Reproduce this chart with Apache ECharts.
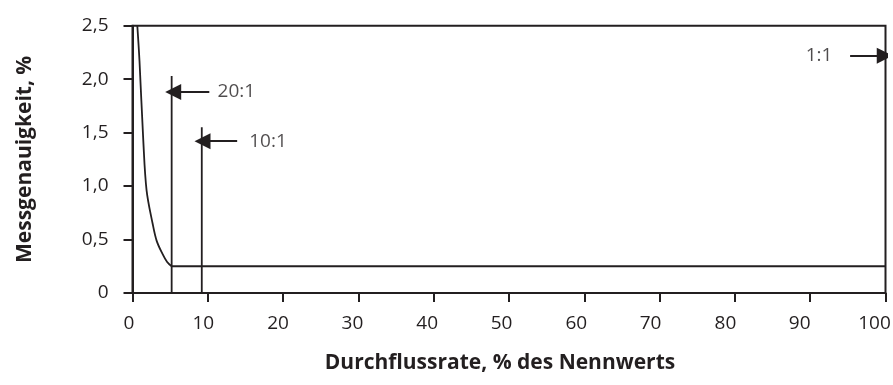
<!DOCTYPE html>
<html>
<head>
<meta charset="utf-8">
<script src="https://cdn.jsdelivr.net/npm/echarts@6/dist/echarts.min.js"></script>
<style>
	html, body { margin: 0; padding: 0; background: #fff; }
	#chart { width: 893px; height: 385px; }
</style>
</head>
<body>
<div id="chart"></div>
<script>
// Messkurve (Durchflussrate %, Messgenauigkeit %)
var curve = [
	[0.64, 2.5], [0.93, 2.17], [1.43, 1.43], [1.87, 0.96], [2.67, 0.65],
	[3.2, 0.49], [3.95, 0.37], [4.6, 0.29], [5.2, 0.25]
]
var plateau = [[5.2, 0.25], [100, 0.25]]
// Grenzlinien für 20:1 und 10:1
var limit20 = [[5.2, 0], [5.2, 2.03]]
var limit10 = [[9.2, 0], [9.2, 1.55]]
// Pfeile: [Anfang, Spitze]
var arrows = [
	[[10.2, 1.88], [5.4, 1.88]],
	[[13.9, 1.42], [9.3, 1.42]],
	[[95.3, 2.22], [99.9, 2.22]]
]
var arrowLabels = [
	{ name: "20:1", value: [11.3, 1.88] },
	{ name: "10:1", value: [15.5, 1.42] },
	{ name: "1:1", value: [89.4, 2.22] }
]
var yTickLabels = ["0", "0,5", "1,0", "1,5", "2,0", "2,5"]

var ink = "#231f20"
var font = "'Open Sans', 'Noto Sans', sans-serif"

// in der Vorlage rücken die x-Beschriftungen nach rechts hin leicht nach links
var xRich = {}
for (var k = 0; k <= 10; k++) {
	xRich["l" + k] = { padding: [0, Math.round(2 * (3.5 + 0.75 * k)), 0, 0] }
}

var option = {
	animation: false,
	grid: {
		left: 132.5,
		right: 7.5,
		top: 25.7,
		bottom: 92,
		outerBoundsMode: "none",
		show: true,
		borderColor: ink,
		borderWidth: 2
	},
	xAxis: {
		type: "value",
		min: 0,
		max: 100,
		interval: 10,
		name: "Durchflussrate, % des Nennwerts",
		nameLocation: "middle",
		nameGap: 60,
		nameTextStyle: {
			fontFamily: font,
			fontWeight: "bold",
			fontSize: 21,
			color: ink,
			padding: [0, 18, 0, 0]
		},
		axisLine: { lineStyle: { color: ink, width: 2 } },
		axisTick: { lineStyle: { color: ink, width: 2 }, length: 9 },
		axisLabel: {
			fontFamily: font,
			fontSize: 19,
			color: ink,
			margin: 21,
			formatter(v) {
				return "{l" + Math.round(v / 10) + "|" + v + "}"
			},
			rich: xRich
		},
		splitLine: { show: false }
	},
	yAxis: {
		type: "value",
		min: 0,
		max: 2.5,
		interval: 0.5,
		name: "Messgenauigkeit, %",
		nameLocation: "middle",
		nameGap: 97,
		nameTextStyle: { fontFamily: font, fontWeight: "bold", fontSize: 21, color: ink },
		axisLine: { show: true, lineStyle: { color: ink, width: 2 } },
		axisTick: { show: true, lineStyle: { color: ink, width: 2 }, length: 9 },
		axisLabel: {
			fontFamily: font,
			fontSize: 19,
			color: ink,
			margin: 24,
			formatter(v) {
				return yTickLabels[Math.round(v / 0.5)]
			}
		},
		splitLine: { show: false }
	},
	series: [
		{
			type: "line",
			data: curve,
			smooth: 0.35,
			symbol: "none",
			lineStyle: { color: ink, width: 1.8 }
		},
		{
			type: "line",
			data: plateau,
			symbol: "none",
			lineStyle: { color: ink, width: 1.8 }
		},
		{
			type: "line",
			data: limit20,
			symbol: "none",
			lineStyle: { color: ink, width: 1.8 }
		},
		{
			type: "line",
			data: limit10,
			symbol: "none",
			lineStyle: { color: ink, width: 1.8 }
		},
		{
			type: "lines",
			coordinateSystem: "cartesian2d",
			symbol: ["none", "triangle"],
			symbolSize: [15, 16],
			lineStyle: { color: ink, width: 2.2, opacity: 1 },
			itemStyle: { color: ink },
			data: arrows.map(function (a) {
				return { coords: a }
			})
		},
		{
			type: "scatter",
			symbolSize: 0,
			data: arrowLabels,
			label: {
				show: true,
				position: "right",
				distance: 0,
				formatter: "{b}",
				fontFamily: font,
				fontSize: 19,
				color: ink
			}
		}
	]
}

var myChart = echarts.init(document.getElementById("chart"))
myChart.setOption(option)
</script>
</body>
</html>
